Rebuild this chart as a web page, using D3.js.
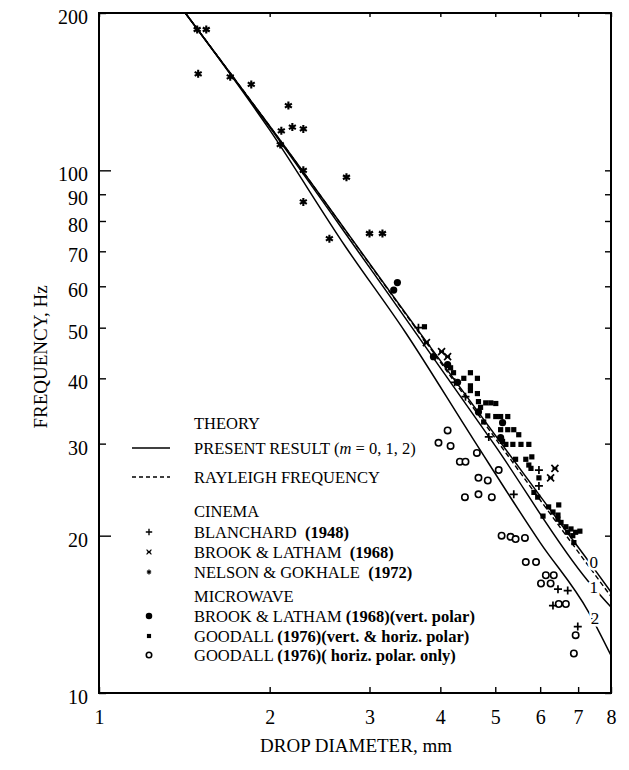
<!DOCTYPE html>
<html><head><meta charset="utf-8">
<script src="https://cdn.jsdelivr.net/npm/d3@7"></script>
<style>
html,body{margin:0;padding:0;background:#fff;}
svg{display:block;font-family:"Liberation Serif","Times New Roman",serif;}
</style></head>
<body><svg id="c" width="629" height="770"></svg>
<script>
// ---------- data (drop diameter mm, frequency Hz) ----------
const xTicks = [1,2,3,4,5,6,7,8];
const yTicks = [10,20,30,40,50,60,70,80,90,100,200];

const rayleigh = [[1.42,200],[2,121.5],[3.63,49.7],[6,23.4],[8,15.3]];
const theoryM0 = [[1.42,200],[2,121.6],[3.63,49.9],[6,23.8],[7.38,17.6],[8,15.6]];
const theoryM1 = [[1.42,200],[2,121],[3,65.2],[5,29.7],[7.28,16.4],[8,14.6]];
const theoryM2 = [[1.42,200],[2,119.5],[2.72,71.5],[3.47,49],[4.58,30.5],[6.0,19.4],[7.3,14.3],[8,11.8]];
const lineLabels = [["0",7.46,17.74],["1",7.46,15.89],["2",7.5,13.86]];

const blanchard = [[3.66,50.0],[4.24,39.3],[4.43,36.9],[4.87,30.9],[5.39,24.0],[5.97,26.7],[5.97,24.9],
  [6.45,15.8],[6.71,15.7],[6.32,14.7],[6.99,13.4]];
const brookCinema = [[3.78,46.8],[4.02,45.0],[4.12,44.0],[6.37,26.9],[6.26,25.8]];
const nelson = [[1.49,186],[1.546,186],[1.496,153],[1.704,151],[1.856,146],[2.158,133],[2.097,119],
  [2.193,121],[2.293,120],[2.088,112],[2.293,100],[2.732,97],[2.293,87],[2.549,74],[3.0,75.7],[3.162,75.7]];
const brookMicro = [[3.36,61.0],[3.31,59.0],[3.89,44.0],[4.12,42.5],[4.29,39.3],[4.67,34.5],[5.15,32.9],[5.11,30.8]];
const goodallVH = [[3.75,50.2],[4.17,41.9],[4.22,41.0],[4.52,41.0],[4.40,40.0],[4.65,40.0],[4.52,38.7],
  [4.52,37.9],[4.65,37.4],[4.67,36.1],[4.81,35.9],[4.91,35.9],[5.01,35.8],[4.71,35.2],[4.85,33.9],
  [5.01,33.8],[5.11,33.8],[5.26,33.8],[4.77,33.0],[5.11,31.9],[5.26,31.9],[5.39,31.9],[5.50,31.2],
  [5.15,30.3],[5.22,29.9],[5.37,29.9],[5.55,29.9],[5.73,29.9],[5.43,28.0],[5.66,28.0],[5.80,28.3],
  [5.73,27.3],[5.78,26.9],[5.97,25.8],[5.85,24.2],[5.94,23.7],[6.21,22.7],[6.47,22.9],[6.32,22.2],
  [6.07,21.8],[6.45,21.9],[6.45,21.5],[6.53,21.2],[6.66,20.8],[6.80,20.6],[6.93,20.3],[7.05,20.4],
  [6.85,20.0],[6.88,19.4],[6.71,20.3]];
const goodallH = [[4.12,31.8],[3.97,30.1],[4.17,29.7],[4.33,27.7],[4.43,27.7],[4.64,28.8],[5.07,26.7],
  [4.67,25.8],[4.85,25.5],[4.42,23.7],[4.67,24.0],[4.93,23.7],[5.13,20.0],[5.32,19.9],[5.43,19.7],
  [5.64,19.8],[5.66,17.8],[5.90,17.8],[6.14,16.8],[6.34,16.8],[6.02,16.2],[6.26,16.2],[6.47,14.8],
  [6.66,14.8],[6.93,12.9],[6.88,11.9]];

// ---------- layout ----------
const L = 99, R = 611, T = 13, B = 693;
const svg = d3.select("#c");
const x = d3.scaleLog().domain([1,8]).range([L,R]);
const y = d3.scaleLog().domain([10,200]).range([B,T]);
const FONT = "Liberation Serif";

// axes
const gL = svg.append("g").attr("transform",`translate(${L},0)`)
  .call(d3.axisLeft(y).tickValues(yTicks).tickFormat(d3.format("d")).tickSize(-7).tickPadding(11));
gL.selectAll(".tick line").attr("x2", d => (d===100||d===20) ? 12 : 7);
const gR = svg.append("g").attr("transform",`translate(${R},0)`)
  .call(d3.axisRight(y).tickValues(yTicks).tickSize(-6).tickFormat(""));
const gB = svg.append("g").attr("transform",`translate(0,${B})`)
  .call(d3.axisBottom(x).tickValues(xTicks).tickFormat(d3.format("d")).tickSize(-6).tickPadding(17));
const gT = svg.append("g").attr("transform",`translate(0,${T})`)
  .call(d3.axisTop(x).tickValues(xTicks).tickSize(-4).tickFormat(""));
[gL,gR,gB,gT].forEach(g=>{
  g.select(".domain").remove();
  g.selectAll(".tick line").attr("stroke","#000").attr("stroke-width",1.4);
  g.selectAll("text").attr("font-family",FONT).attr("font-size",20).attr("fill","#000");
});
gL.selectAll("text").attr("dy","0.52em");
svg.append("rect").attr("x",L).attr("y",T).attr("width",R-L).attr("height",B-T)
  .attr("fill","none").attr("stroke","#000").attr("stroke-width",2);

// titles
svg.append("text").attr("x",356).attr("y",752).attr("text-anchor","middle")
  .attr("font-family",FONT).attr("font-size",19).text("DROP DIAMETER, mm");
svg.append("text").attr("transform","translate(47,357) rotate(-90)").attr("text-anchor","middle")
  .attr("font-family",FONT).attr("font-size",19).text("FREQUENCY, Hz");

// plot clip
svg.append("clipPath").attr("id","pc").append("rect").attr("x",L).attr("y",T).attr("width",R-L).attr("height",B-T);
const plot = svg.append("g").attr("clip-path","url(#pc)");
const line = d3.line().x(d=>x(d[0])).y(d=>y(d[1])).curve(d3.curveMonotoneX);

// markers
const sym = {
  plus: "M-4,0H4M0,-4V4",
  cross: "M-3.5,-3.5L3.5,3.5M-3.5,3.5L3.5,-3.5M-2.5,0H2.5",
  star: "M0,-4V4M-3.5,-2L3.5,2M-3.5,2L3.5,-2"
};
function drawPts(data, type){
  const g = plot.append("g");
  data.forEach(d=>{
    const px=x(d[0]), py=y(d[1]);
    marker(g,type,px,py);
  });
}
function marker(g,type,px,py,s=1){
  if(type==="plus"||type==="cross"||type==="star"){
    g.append("path").attr("d",sym[type]).attr("transform",`translate(${px},${py}) scale(${s})`)
      .attr("stroke","#000").attr("stroke-width",type==="star"?2.1:1.7).attr("fill","none");
  } else if(type==="dot"){
    g.append("circle").attr("cx",px).attr("cy",py).attr("r",3.6*s).attr("fill","#000");
  } else if(type==="square"){
    g.append("rect").attr("x",px-2.6*s).attr("y",py-2.6*s).attr("width",5.2*s).attr("height",5.2*s).attr("fill","#000");
  } else if(type==="open"){
    g.append("circle").attr("cx",px).attr("cy",py).attr("r",3.2*s).attr("fill","#fff")
      .attr("stroke","#000").attr("stroke-width",1.6);
  }
}

drawPts(goodallH,"open");
drawPts(goodallVH,"square");
drawPts(brookMicro,"dot");
drawPts(nelson,"star");
drawPts(brookCinema,"cross");
drawPts(blanchard,"plus");

// theory lines
plot.append("path").attr("d",line(rayleigh)).attr("fill","none").attr("stroke","#000")
  .attr("stroke-width",1.4).attr("stroke-dasharray","5,3");
[theoryM0,theoryM1,theoryM2].forEach(s=>{
  plot.append("path").attr("d",line(s)).attr("fill","none").attr("stroke","#000").attr("stroke-width",1.5);
});
lineLabels.forEach(([t,dx,fy])=>{
  plot.append("text").attr("x",x(dx)).attr("y",y(fy)).attr("text-anchor","middle")
    .attr("dominant-baseline","central").attr("font-family",FONT).attr("font-size",17)
    .attr("stroke","#fff").attr("stroke-width",5).attr("paint-order","stroke").attr("fill","#000").text(t);
});

// legend
const lg = svg.append("g").attr("font-family",FONT).attr("font-size",16.5).attr("fill","#000");
const TX = 194, MX = 149;
function ltext(yc, parts){
  const t = lg.append("text").attr("x",TX).attr("y",yc).attr("dy","0.35em").attr("xml:space","preserve");
  parts.forEach(p=>{
    const s = t.append("tspan").text(p.t);
    if(p.b) s.attr("font-weight","bold");
    if(p.i) s.attr("font-style","italic");
  });
}
ltext(423,[{t:"THEORY"}]);
lg.append("line").attr("x1",132).attr("x2",170).attr("y1",448).attr("y2",448).attr("stroke","#000").attr("stroke-width",1.4);
ltext(448,[{t:"PRESENT RESULT ("},{t:"m",i:true},{t:" = 0, 1, 2)"}]);
lg.append("line").attr("x1",132).attr("x2",170).attr("y1",477).attr("y2",477).attr("stroke","#000")
  .attr("stroke-width",1.3).attr("stroke-dasharray","4,3");
ltext(477,[{t:"RAYLEIGH FREQUENCY"}]);
ltext(511,[{t:"CINEMA"}]);
ltext(532,[{t:"BLANCHARD  "},{t:"(1948)",b:true}]);
ltext(552,[{t:"BROOK & LATHAM  "},{t:"(1968)",b:true}]);
ltext(572,[{t:"NELSON & GOKHALE  "},{t:"(1972)",b:true}]);
ltext(596,[{t:"MICROWAVE"}]);
ltext(616,[{t:"BROOK & LATHAM "},{t:"(1968)(vert. polar)",b:true}]);
ltext(636,[{t:"GOODALL "},{t:"(1976)(vert. & horiz. polar)",b:true}]);
ltext(655,[{t:"GOODALL "},{t:"(1976)( horiz. polar. only)",b:true}]);
marker(lg,"plus",MX,532,0.8);
marker(lg,"cross",MX,552,0.7);
marker(lg,"star",MX,572,0.6);
marker(lg,"dot",MX,616,0.9);
marker(lg,"square",MX,636,0.8);
marker(lg,"open",MX,655,0.85);
</script></body></html>
